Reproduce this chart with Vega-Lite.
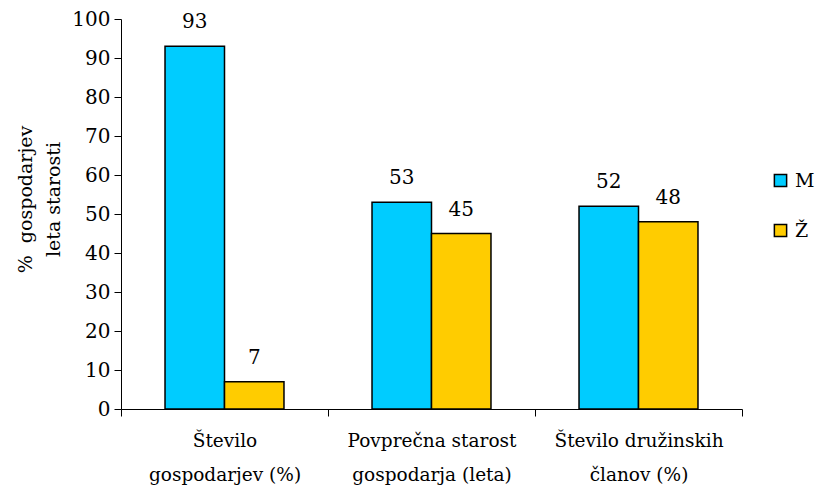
{
  "$schema": "https://vega.github.io/schema/vega-lite/v6.json",
  "width": 621,
  "height": 390,
  "autosize": {"type": "none"},
  "padding": {"left": 121, "top": 19, "right": 74, "bottom": 80},
  "background": "white",
  "config": {
    "font": "DejaVu Serif",
    "view": {"stroke": null}
  },
  "data": {
    "values": [
      {"kategorija": "Število gospodarjev (%)", "spol": "M", "vrednost": 93},
      {"kategorija": "Število gospodarjev (%)", "spol": "Ž", "vrednost": 7},
      {"kategorija": "Povprečna starost gospodarja (leta)", "spol": "M", "vrednost": 53},
      {"kategorija": "Povprečna starost gospodarja (leta)", "spol": "Ž", "vrednost": 45},
      {"kategorija": "Število družinskih članov (%)", "spol": "M", "vrednost": 52},
      {"kategorija": "Število družinskih članov (%)", "spol": "Ž", "vrednost": 48}
    ]
  },
  "encoding": {
    "x": {
      "field": "kategorija",
      "type": "nominal",
      "sort": null,
      "scale": {"paddingInner": 0, "paddingOuter": 0},
      "axis": {
        "title": null,
        "labelAngle": 0,
        "tickBand": "extent",
        "domainColor": "black",
        "tickColor": "black",
        "tickSize": 7,
        "labelFontSize": 18.5,
        "labelColor": "black",
        "labelPadding": 15,
        "labelLineHeight": 34,
        "labelBaseline": "top",
        "labelExpr": "datum.label == 'Število gospodarjev (%)' ? ['Število', 'gospodarjev (%)'] : datum.label == 'Povprečna starost gospodarja (leta)' ? ['Povprečna starost', 'gospodarja (leta)'] : datum.label == 'Število družinskih članov (%)' ? ['Število družinskih', 'članov (%)'] : ''"
      }
    },
    "xOffset": {
      "field": "spol",
      "type": "nominal",
      "scale": {"paddingInner": 0, "paddingOuter": 0.74}
    },
    "y": {
      "field": "vrednost",
      "type": "quantitative",
      "scale": {"domain": [0, 100], "nice": false},
      "axis": {
        "title": ["%\u00a0\u00a0gospodarjev", "leta starosti"],
        "titleFontSize": 19,
        "titleFontWeight": "normal",
        "titleColor": "black",
        "titleLineHeight": 28,
        "titlePadding": 8,
        "titleY": 180,
        "values": [0, 10, 20, 30, 40, 50, 60, 70, 80, 90, 100],
        "grid": false,
        "domainColor": "black",
        "tickColor": "black",
        "tickSize": 7,
        "labelFontSize": 20,
        "labelColor": "black",
        "labelPadding": 4
      }
    }
  },
  "layer": [
    {
      "mark": {"type": "bar", "stroke": "black", "strokeWidth": 1.5},
      "encoding": {
        "color": {
          "field": "spol",
          "type": "nominal",
          "scale": {"domain": ["M", "Ž"], "range": ["#00CCFF", "#FFCC00"]},
          "legend": {
            "title": null,
            "orient": "none",
            "legendX": 650,
            "legendY": 152,
            "symbolType": "square",
            "symbolSize": 150,
            "symbolStrokeColor": "black",
            "symbolStrokeWidth": 1.5,
            "symbolOpacity": 1,
            "labelFontSize": 19,
            "labelColor": "black",
            "labelOffset": 5,
            "rowPadding": 30
          }
        }
      }
    },
    {
      "mark": {"type": "text", "baseline": "bottom", "dy": -14, "fontSize": 20, "color": "black"},
      "encoding": {
        "text": {"field": "vrednost", "type": "quantitative"}
      }
    }
  ]
}
